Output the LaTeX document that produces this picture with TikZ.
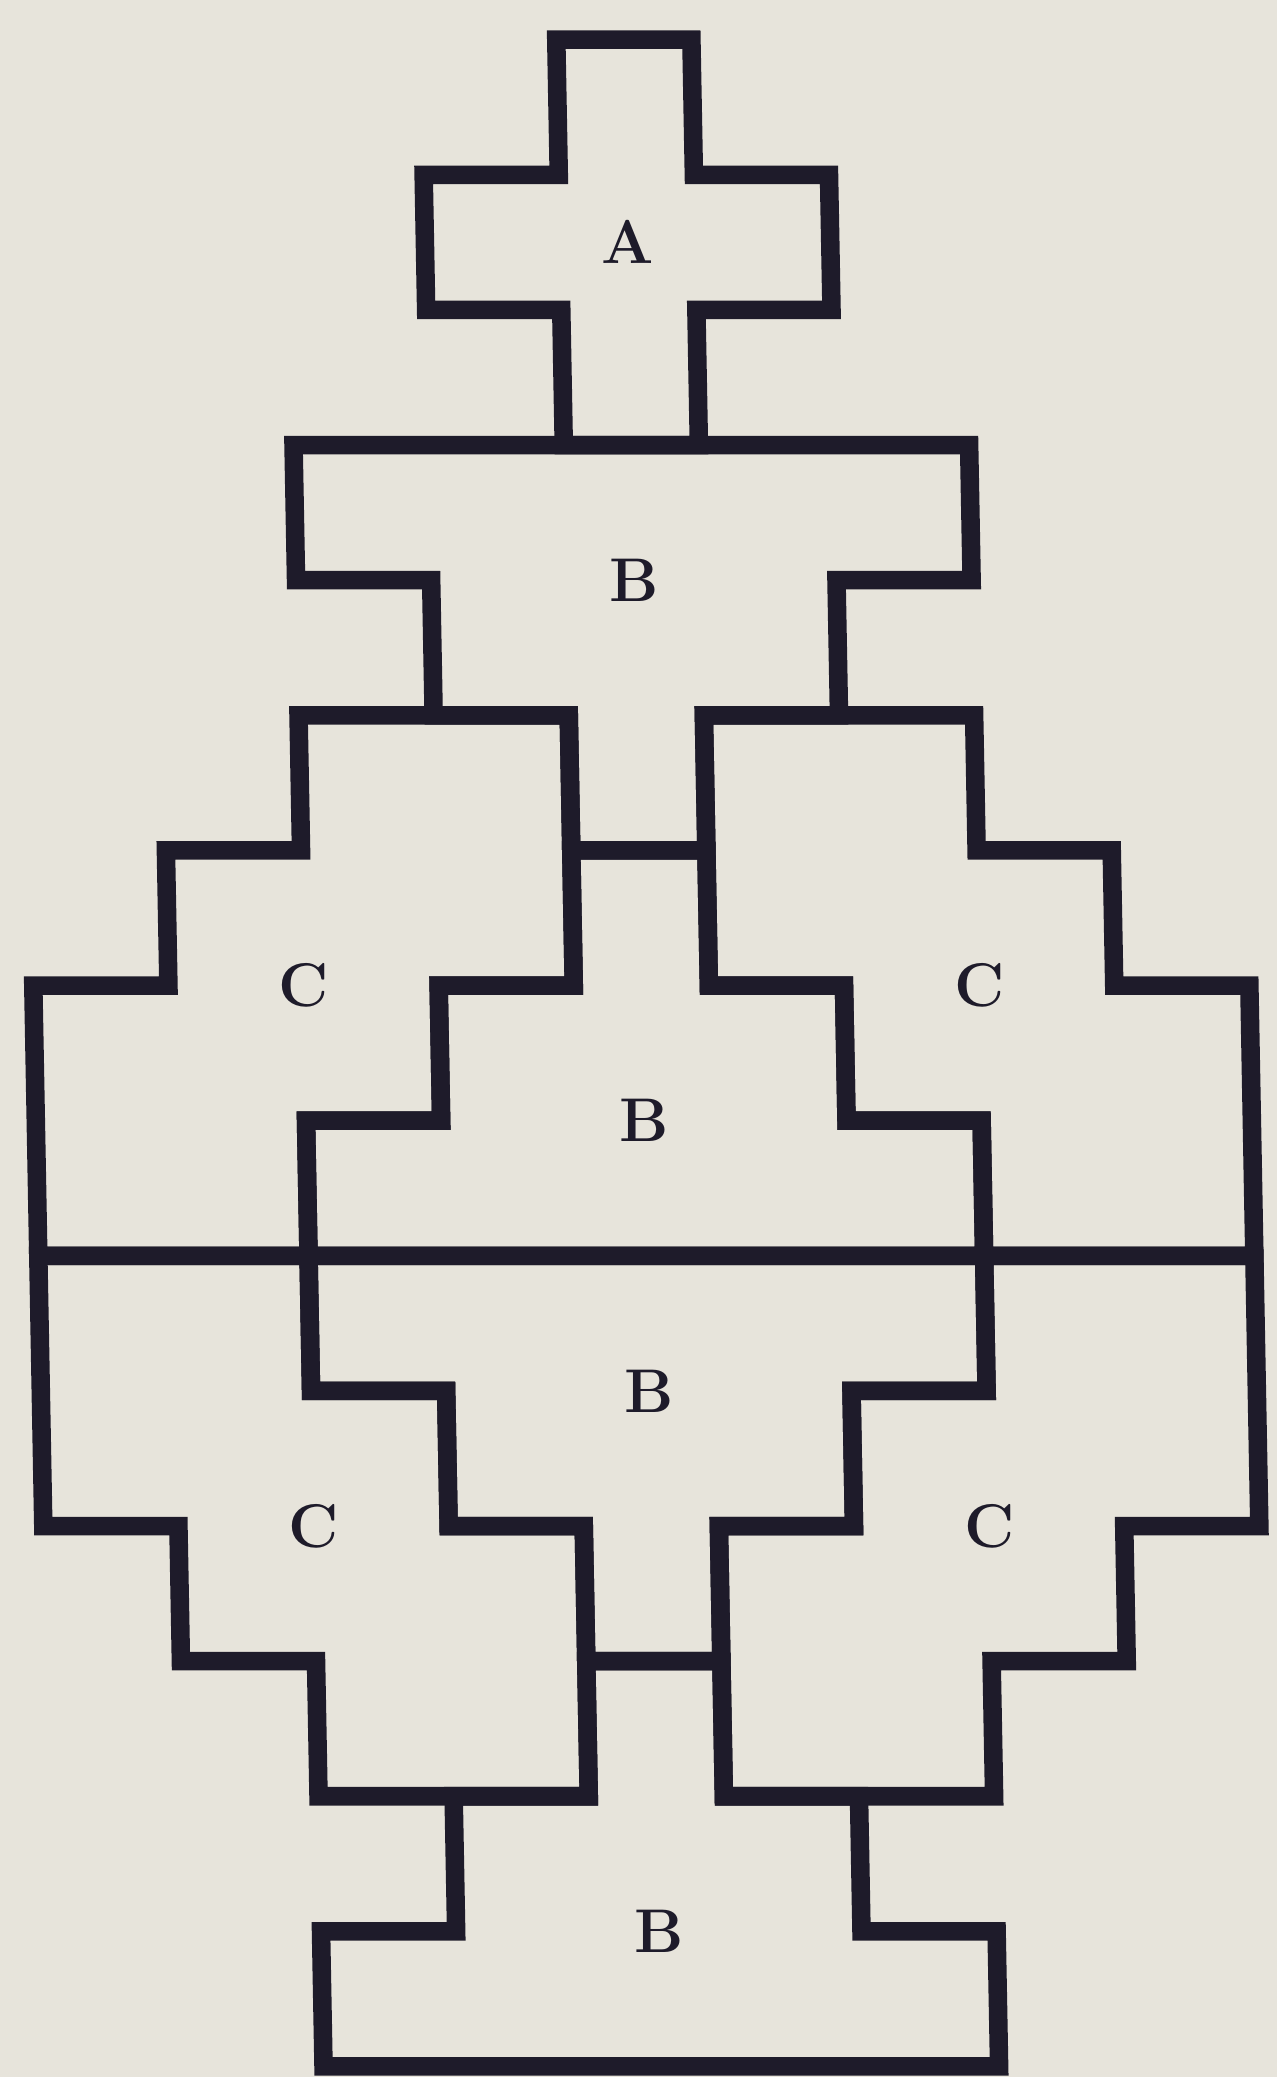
\documentclass[tikz,border=0pt]{standalone}
\usepackage{tikz}

\definecolor{ink}{HTML}{1E1B2A}
\definecolor{paper}{HTML}{E7E4DB}

\begin{document}
\begin{tikzpicture}[
  wall/.style={line width=3.9pt, draw=ink, line join=miter},
  piecelabel/.style={text=ink, font=\fontsize{13}{15}\selectfont\bfseries}]
  \fill[paper] (-0.284,-15.078) rectangle (9.167,0.294);
  \useasboundingbox (-0.284,-15.078) rectangle (9.167,0.294);
  \begin{scope}[xshift=-0.167cm, xslant=-0.0185]
  \draw[wall] (4,0) -- (5,0) -- (5,-1) -- (6,-1) -- (6,-2) -- (5,-2) -- (5,-3)
    -- (4,-3) -- (4,-2) -- (3,-2) -- (3,-1) -- (4,-1) -- cycle;
  \draw[wall] (2,-3) -- (7,-3) -- (7,-4) -- (6,-4) -- (6,-5) -- (5,-5) -- (5,-6)
    -- (4,-6) -- (4,-5) -- (3,-5) -- (3,-4) -- (2,-4) -- cycle;
  \draw[wall] (4,-6) -- (5,-6) -- (5,-7) -- (6,-7) -- (6,-8) -- (7,-8) -- (7,-9)
    -- (2,-9) -- (2,-8) -- (3,-8) -- (3,-7) -- (4,-7) -- cycle;
  \draw[wall] (2,-9) -- (7,-9) -- (7,-10) -- (6,-10) -- (6,-11) -- (5,-11) -- (5,-12)
    -- (4,-12) -- (4,-11) -- (3,-11) -- (3,-10) -- (2,-10) -- cycle;
  \draw[wall] (4,-12) -- (5,-12) -- (5,-13) -- (6,-13) -- (6,-14) -- (7,-14) -- (7,-15)
    -- (2,-15) -- (2,-14) -- (3,-14) -- (3,-13) -- (4,-13) -- cycle;
  \draw[wall] (2,-5) -- (4,-5) -- (4,-7) -- (3,-7) -- (3,-8) -- (2,-8) -- (2,-9)
    -- (0,-9) -- (0,-7) -- (1,-7) -- (1,-6) -- (2,-6) -- cycle;
  \draw[wall] (7,-5) -- (5,-5) -- (5,-7) -- (6,-7) -- (6,-8) -- (7,-8) -- (7,-9)
    -- (9,-9) -- (9,-7) -- (8,-7) -- (8,-6) -- (7,-6) -- cycle;
  \draw[wall] (0,-9) -- (2,-9) -- (2,-10) -- (3,-10) -- (3,-11) -- (4,-11) -- (4,-13)
    -- (2,-13) -- (2,-12) -- (1,-12) -- (1,-11) -- (0,-11) -- cycle;
  \draw[wall] (9,-9) -- (7,-9) -- (7,-10) -- (6,-10) -- (6,-11) -- (5,-11) -- (5,-13)
    -- (7,-13) -- (7,-12) -- (8,-12) -- (8,-11) -- (9,-11) -- cycle;
  \node[piecelabel] (A) at (4.5,-1.5) {A};
  \node[piecelabel] (B1) at (4.5,-4) {B};
  \node[piecelabel] (B2) at (4.5,-8) {B};
  \node[piecelabel] (B3) at (4.5,-10) {B};
  \node[piecelabel] (B4) at (4.5,-14) {B};
  \node[piecelabel] (C1) at (2,-7) {C};
  \node[piecelabel] (C2) at (7,-7) {C};
  \node[piecelabel] (C3) at (2,-11) {C};
  \node[piecelabel] (C4) at (7,-11) {C};
  \end{scope}
\end{tikzpicture}
\end{document}
